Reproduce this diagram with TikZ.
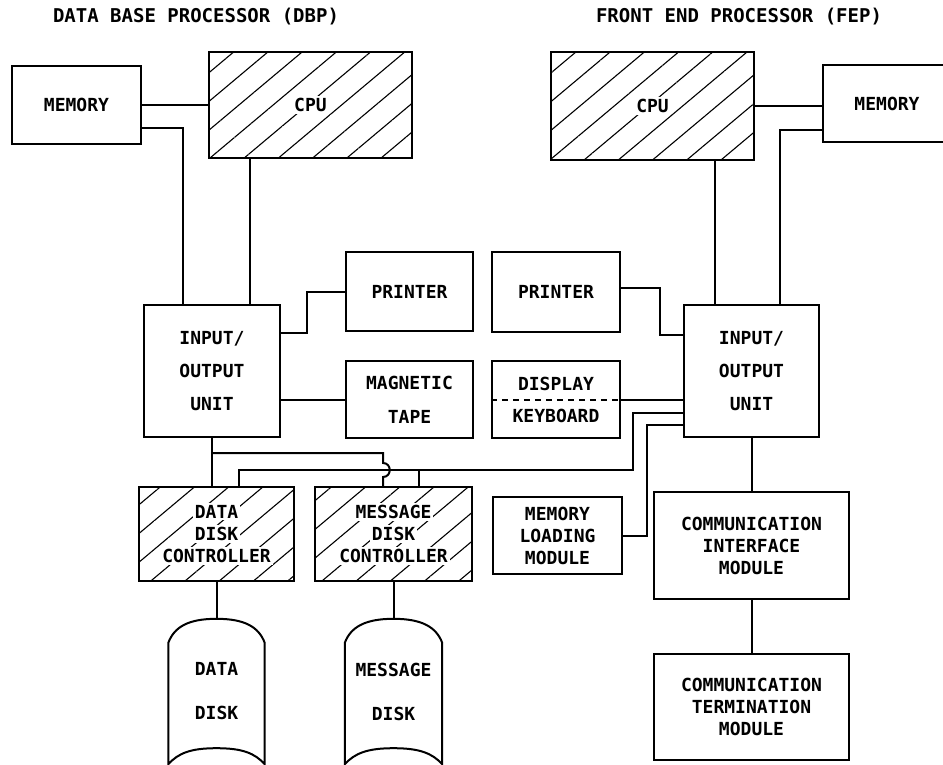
\documentclass[tikz,border=0pt]{standalone}
\usepackage{fontspec}
\setmonofont{DejaVu Sans Mono}
\usetikzlibrary{patterns.meta,calc}
\newcommand{\cleared}[1]{{\setlength{\fboxsep}{2pt}\colorbox{white}{#1}}}
\newcommand{\diskoutline}[1]{%
    \draw[line width=2pt] ($(#1.north west)+(0,24)$)
        .. controls ($(#1.north west)+(6,8)$) and ($(#1.north)+(-28,0)$) .. (#1.north)
        .. controls ($(#1.north)+(28,0)$) and ($(#1.north east)+(-6,8)$) .. ($(#1.north east)+(0,24)$)
        -- (#1.south east)
        .. controls ($(#1.south east)+(-10,-11)$) and ($(#1.south)+(26,-16)$) .. ($(#1.south)+(0,-16)$)
        .. controls ($(#1.south)+(-26,-16)$) and ($(#1.south west)+(10,-11)$) .. (#1.south west)
        -- cycle;}
\tikzstyle{unit} = [draw, line width=2.2pt, align=center, inner sep=0pt]
\tikzstyle{hatched} = [unit, pattern={Lines[angle=40,distance=22pt,line width=1.1pt]}]
\tikzstyle{wire} = [line width=2pt]
\tikzstyle{heading} = [font=\ttfamily\bfseries\fontsize{19}{22}\selectfont]

\begin{document}
\begin{tikzpicture}[x=1pt,y=-1pt,every node/.style={font=\ttfamily\bfseries\fontsize{18}{22}\selectfont}]
    \useasboundingbox (0,0) rectangle (943,765);
    % data base processor
    \node[heading] (dbptitle) at (196,17) {DATA BASE PROCESSOR (DBP)};
    \node[unit,minimum width=129pt,minimum height=78pt] (dbpmem) at (76.5,105) {MEMORY};
    \node[hatched,minimum width=203pt,minimum height=106pt] (dbpcpu) at (310.5,105) {\cleared{CPU}};
    \node[unit,minimum width=127pt,minimum height=79pt] (dbpprn) at (409.5,291.5) {PRINTER};
    \node[unit,minimum width=136pt,minimum height=132pt] (dbpio) at (212,371) {INPUT/\\[11pt]OUTPUT\\[11pt]UNIT};
    \node[unit,minimum width=127pt,minimum height=77pt] (dbptape) at (409.5,399.5) {MAGNETIC\\[12pt]TAPE};
    \node[hatched,minimum width=155pt,minimum height=94pt] (ddc) at (216.5,534) {\cleared{DATA}\\\cleared{DISK}\\\cleared{CONTROLLER}};
    \node[hatched,minimum width=157pt,minimum height=94pt] (mdc) at (393.5,534) {\cleared{MESSAGE}\\\cleared{DISK}\\\cleared{CONTROLLER}};
    \node[minimum width=96pt,minimum height=145pt,align=center] (ddisk) at (216.5,691.5) {DATA\\[22pt]DISK};
    \node[minimum width=97pt,minimum height=145pt,align=center] (mdisk) at (393.5,691.5) {MESSAGE\\[22pt]DISK};
    \diskoutline{ddisk}
    \diskoutline{mdisk}

    % front end processor
    \node[heading] (feptitle) at (739,17) {FRONT END PROCESSOR (FEP)};
    \node[hatched,minimum width=203pt,minimum height=108pt] (fepcpu) at (652.5,106) {\cleared{CPU}};
    \node[unit,minimum width=128pt,minimum height=77pt] (fepmem) at (887,103.5) {MEMORY};
    \node[unit,minimum width=128pt,minimum height=80pt] (fepprn) at (556,292) {PRINTER};
    \node[unit,minimum width=128pt,minimum height=77pt] (fepdisp) at (556,399.5) {DISPLAY\\[10pt]KEYBOARD};
    \node[unit,minimum width=135pt,minimum height=132pt] (fepio) at (751.5,371) {INPUT/\\[11pt]OUTPUT\\[11pt]UNIT};
    \node[unit,minimum width=129pt,minimum height=77pt] (mlm) at (557.5,535.5) {MEMORY\\LOADING\\MODULE};
    \node[unit,minimum width=195pt,minimum height=107pt] (cim) at (751.5,545.5) {COMMUNICATION\\INTERFACE\\MODULE};
    \node[unit,minimum width=195pt,minimum height=106pt] (ctm) at (751.5,707) {COMMUNICATION\\TERMINATION\\MODULE};

    % connections, data base side
    \draw[wire] (dbpmem) -- (dbpcpu);
    \draw[wire] (dbpmem.east |- 0,128) -| (dbpio.north -| 183,0);
    \draw[wire] (dbpcpu.south -| 250,0) -- (dbpio.north -| 250,0);
    \draw[wire] (dbpio.east |- 0,333) -- (307,333) |- (dbpprn.west);
    \draw[wire] (dbpio.east |- dbptape.west) -- (dbptape.west);
    \draw[wire] (dbpio.south) -- (dbpio.south |- ddc.north);
    \draw[wire] (dbpio.south |- 0,453) -- (383,453) -- (383,463)
        .. controls (392,463) and (392,477) .. (383,477) -- (mdc.north -| 383,0);
    \draw[wire] (fepio.west |- 0,413) -- (633,413) -- (633,470) -| (ddc.north -| 239,0);
    \draw[wire] (419,470) -- (mdc.north -| 419,0);
    \draw[wire] (ddc) -- (ddisk);
    \draw[wire] (mdc) -- (mdisk);

    % connections, front end side
    \draw[wire] (fepcpu.east) -- (fepmem.west |- fepcpu.east);
    \draw[wire] (fepmem.west |- 0,130) -| (fepio.north -| 780,0);
    \draw[wire] (fepcpu.south -| 715,0) -- (fepio.north -| 715,0);
    \draw[wire] (fepprn.east |- 0,288) -- (660,288) |- (fepio.west |- 0,335);
    \draw[wire,dash pattern=on 6pt off 5pt] (fepdisp.west) -- (fepdisp.east);
    \draw[wire] (fepdisp.east) -- (fepio.west |- fepdisp.east);
    \draw[wire] (fepio.west |- 0,425) -- (647,425) |- (mlm.east);
    \draw[wire] (fepio) -- (cim);
    \draw[wire] (cim) -- (ctm);
\end{tikzpicture}
\end{document}
